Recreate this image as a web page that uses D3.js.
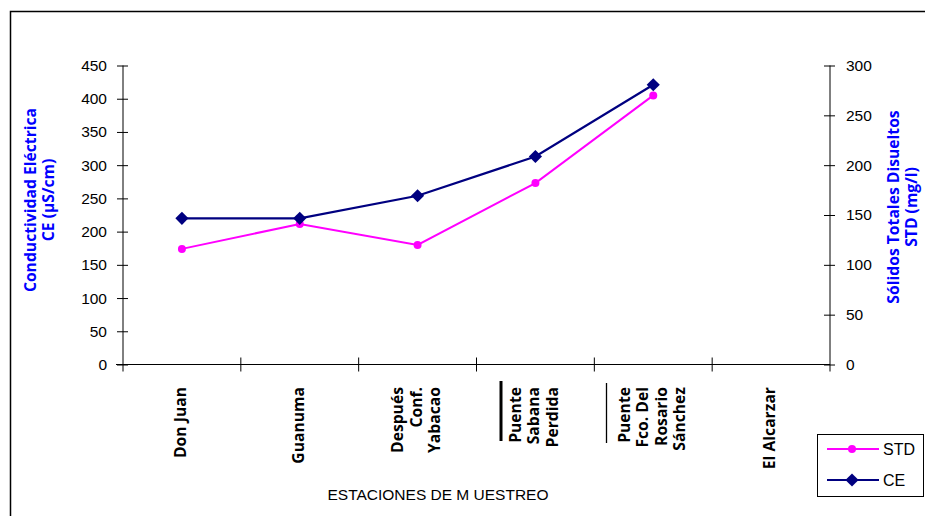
<!DOCTYPE html>
<html><head><meta charset="utf-8">
<script src="https://cdn.jsdelivr.net/npm/d3@7/dist/d3.min.js"></script>
<style>body{margin:0;background:#fff}svg{display:block}</style>
</head><body>
<svg id="chart" width="925" height="516"></svg>
<script>
const categories = [
  ["Don Juan"],
  ["Guanuma"],
  ["Después", "Conf.", "Yabacao"],
  ["Puente", "Sabana", "Perdida"],
  ["Puente", "Fco. Del", "Rosario", "Sánchez"],
  ["El Alcarzar"]
];
const ceValues = [220, 220, 254, 313, 421, null];
const stdValues = [116, 141, 120, 182, 270, null];
const leftTicks = [0, 50, 100, 150, 200, 250, 300, 350, 400, 450];
const rightTicks = [0, 50, 100, 150, 200, 250, 300];

const svg = d3.select("#chart");
const L = 123, R = 830, T = 65.5, B = 364.5;
const tickFont = "'Liberation Sans', Arial, sans-serif";
const boldFont = "'Open Sans', Lato, sans-serif";

// outer frame
svg.append("path").attr("d", "M10.5,516 V11.5 H925").attr("fill", "none").attr("stroke", "#000").attr("stroke-width", 1.5);

const x = d3.scaleBand().domain(d3.range(categories.length)).range([L, R]).padding(0);
const yL = d3.scaleLinear().domain([0, 450]).range([B, T]);
const yR = d3.scaleLinear().domain([0, 300]).range([B, T]);

// left axis
const gL = svg.append("g").attr("transform", `translate(${L},0)`)
  .call(d3.axisLeft(yL).tickValues(leftTicks).tickSize(6).tickPadding(10));
gL.selectAll(".tick line").attr("x2", -6).attr("x1", 5);
// right axis
const gR = svg.append("g").attr("transform", `translate(${R},0)`)
  .call(d3.axisRight(yR).tickValues(rightTicks).tickSize(6).tickPadding(10));
gR.selectAll(".tick line").attr("x1", -6).attr("x2", 5);
[gL, gR].forEach(g => {
  g.select(".domain").attr("d", `M0,${T}V${B+7}`).attr("stroke", "#000");
  g.selectAll(".tick text").attr("font-family", tickFont).attr("font-size", 15.5).attr("fill", "#000");
  g.selectAll(".tick line").attr("stroke", "#000");
});

// x axis
const bounds = d3.range(1, categories.length).map(i => x(i));
svg.append("line").attr("x1", L - 7).attr("x2", R).attr("y1", B).attr("y2", B).attr("stroke", "#000");
svg.append("g").selectAll("line").data(bounds).join("line")
  .attr("x1", d => d).attr("x2", d => d).attr("y1", B - 7).attr("y2", B + 7).attr("stroke", "#000");

// category labels
const lineGap = 18.5;
categories.forEach((lines, i) => {
  const cx = x(i) + x.bandwidth() / 2;
  const n = lines.length;
  lines.forEach((t, j) => {
    const lx = cx + (j - (n - 1) / 2) * lineGap - 2;
    svg.append("text")
      .attr("transform", `translate(${lx + 6},387) rotate(-90)`)
      .attr("text-anchor", "end")
      .attr("font-family", boldFont).attr("font-weight", "bold").attr("font-size", 15.7)
      .attr("fill", "#000").text(t);
  });
});
// stray vertical marks
svg.append("line").attr("x1", 501).attr("x2", 501).attr("y1", 381).attr("y2", 441).attr("stroke", "#000").attr("stroke-width", 3);
svg.append("line").attr("x1", 606.5).attr("x2", 606.5).attr("y1", 383).attr("y2", 443).attr("stroke", "#000").attr("stroke-width", 1.3);

// axis titles
function vTitle(cx, cy, lines) {
  lines.forEach((t, j) => {
    svg.append("text")
      .attr("transform", `translate(${cx + (j - (lines.length - 1) / 2) * 18 + 6},${cy}) rotate(-90)`)
      .attr("text-anchor", "middle")
      .attr("font-family", boldFont).attr("font-weight", "bold").attr("font-size", 15.7)
      .attr("fill", "#0000ff").text(t);
  });
}
vTitle(39, 200, ["Conductividad Eléctrica", "CE (µS/cm)"]);
vTitle(902, 207, ["Sólidos Totales Disueltos", "STD (mg/l)"]);

svg.append("text").attr("x", 438).attr("y", 500).attr("text-anchor", "middle")
  .attr("font-family", tickFont).attr("font-size", 15.5).attr("fill", "#000")
  .text("ESTACIONES DE M UESTREO");

// lines
const cx = i => x(i) + x.bandwidth() / 2;
const stdLine = d3.line().defined(d => d != null).x((d, i) => cx(i)).y(d => yR(d));
const ceLine = d3.line().defined(d => d != null).x((d, i) => cx(i)).y(d => yL(d));
svg.append("path").datum(stdValues).attr("d", stdLine).attr("fill", "none").attr("stroke", "#ff00ff").attr("stroke-width", 2);
svg.append("path").datum(ceValues).attr("d", ceLine).attr("fill", "none").attr("stroke", "#000080").attr("stroke-width", 2.2);
svg.append("g").selectAll("circle").data(stdValues.map((v, i) => [v, i]).filter(d => d[0] != null)).join("circle")
  .attr("cx", d => cx(d[1])).attr("cy", d => yR(d[0])).attr("r", 4).attr("fill", "#ff00ff");
const diamond = d3.symbol().type(d3.symbolDiamond2).size(110);
svg.append("g").selectAll("path").data(ceValues.map((v, i) => [v, i]).filter(d => d[0] != null)).join("path")
  .attr("transform", d => `translate(${cx(d[1])},${yL(d[0])})`).attr("d", diamond).attr("fill", "#000080");

// legend
const lg = svg.append("g");
lg.append("rect").attr("x", 817.5).attr("y", 434.5).attr("width", 106).attr("height", 62).attr("fill", "#fff").attr("stroke", "#000");
const items = [["STD", "#ff00ff", "circle"], ["CE", "#000080", "diamond"]];
items.forEach((it, k) => {
  const yy = 449 + k * 31;
  lg.append("line").attr("x1", 827).attr("x2", 879).attr("y1", yy).attr("y2", yy).attr("stroke", it[1]).attr("stroke-width", 2);
  if (it[2] === "circle") lg.append("circle").attr("cx", 852).attr("cy", yy).attr("r", 4).attr("fill", it[1]);
  else lg.append("path").attr("transform", `translate(852,${yy})`).attr("d", diamond).attr("fill", it[1]);
  lg.append("text").attr("x", 883).attr("y", yy + 5.5).attr("font-family", tickFont).attr("font-size", 16).attr("fill", "#000").text(it[0]);
});
</script>
</body></html>
